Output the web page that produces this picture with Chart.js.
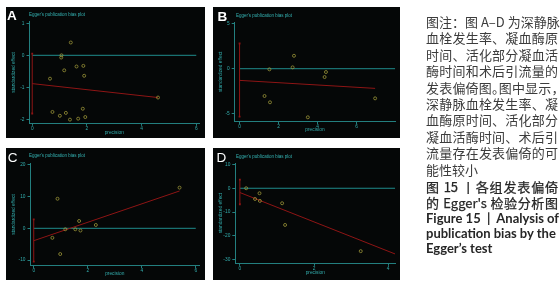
<!DOCTYPE html>
<html>
<head>
<meta charset="utf-8">
<script src="https://cdn.jsdelivr.net/npm/chart.js@4.4.0/dist/chart.umd.min.js"></script>
<style>
  body { margin: 0; width: 560px; height: 290px; background: #fff; position: relative; overflow: hidden; }
  .panel { position: absolute; background: #050707; overflow: hidden; }
  .panel canvas { position: absolute; left: 0; top: 0; }
  .tag { position: absolute; color: #fff; font: bold 13.5px "Liberation Sans", Arial, sans-serif; line-height: 1; }
  .ttl { position: absolute; color: #35b4b4; font: 9px "Liberation Sans", Arial, sans-serif; line-height: 10px;
         white-space: nowrap; transform: scale(0.5); transform-origin: 0 50%; }
  .ln { position: absolute; left: 426px; width: 132px; height: 16px; line-height: 16px; white-space: pre;
        font-family: "Noto Sans CJK SC", sans-serif; font-size: 13px; color: #3c3c3c; }
  .just { text-align: justify; text-align-last: justify; }
  .cap { color: #262626; -webkit-text-stroke: 0.25px #262626; }
  .en { font-family: Lato, "Open Sans", sans-serif; font-weight: bold; font-size: 13px; color: #262626; }
</style>
</head>
<body>

<div class="panel" id="pA" style="left:6px;top:7px;width:199px;height:131px">
  <canvas id="cA" width="199" height="131"></canvas>
  <div class="tag" style="left:1px;top:2.2px">A</div>
  <div class="ttl" style="left:23.3px;top:2.3px">Egger's publication bias plot</div>
</div>
<div class="panel" id="pB" style="left:213px;top:7px;width:187px;height:131px">
  <canvas id="cB" width="187" height="131"></canvas>
  <div class="tag" style="left:4.5px;top:3.3px">B</div>
  <div class="ttl" style="left:23px;top:3px">Egger's publication bias plot</div>
</div>
<div class="panel" id="pC" style="left:6px;top:148px;width:199px;height:132px">
  <canvas id="cC" width="199" height="132"></canvas>
  <div class="tag" style="left:1.8px;top:2.8px;font-weight:normal">C</div>
  <div class="ttl" style="left:23.3px;top:2px">Egger's publication bias plot</div>
</div>
<div class="panel" id="pD" style="left:213px;top:148px;width:187px;height:132px">
  <canvas id="cD" width="187" height="132"></canvas>
  <div class="tag" style="left:3.5px;top:2.8px;font-weight:normal">D</div>
  <div class="ttl" style="left:23px;top:3px">Egger's publication bias plot</div>
</div>

<div id="note"></div>

<script>
// === DATA ===

// A: deep vein thrombosis incidence
const precA = [1.41, 1.07, 1.06, 1.17, 0.65, 1.62, 1.87, 1.90, 0.74, 1.01, 1.23, 1.38, 1.68, 1.85, 1.94, 4.60];
const effA  = [0.40, 0.00, -0.07, -0.47, -0.73, -0.35, -0.33, -0.64, -1.77, -1.89, -1.80, -2.01, -1.98, -1.67, -1.93, -1.32];
const fitXA = [0, 4.60];
const fitYA = [-0.885, -1.32];
const ciA   = [-1.82, 0.05];
const xTicksA = [0, 2, 4, 6];
const yTicksA = [-2, -1, 0, 1];

// B: prothrombin time
const precB = [2.79, 1.53, 2.72, 4.43, 4.36, 1.28, 1.56, 3.50, 6.95];
const effB  = [1.44, -0.07, 0.15, -0.37, -0.93, -3.04, -3.74, -5.41, -3.30];
const fitXB = [0, 6.95];
const fitYB = [-1.30, -2.19];
const ciB   = [-5.33, 2.81];
const xTicksB = [0, 2, 4, 6];
const yTicksB = [-5, 0, 5];

// C: activated partial thromboplastin time
const precC = [5.40, 0.88, 1.68, 2.30, 1.17, 1.54, 1.73, 0.69, 0.98];
const effC  = [12.8, 9.3, 2.3, 1.05, -0.3, -0.3, -0.7, -3.0, -8.1];
const fitXC = [0, 5.40];
const fitYC = [-3.9, 11.75];
const ciC   = [-10.5, 2.8];
const xTicksC = [0, 2, 4, 6];
const yTicksC = [-10, 0, 10, 20];

// D: postoperative drainage
const precD = [0.17, 0.53, 0.41, 0.54, 1.14, 1.22, 3.26];
const effD  = [0.0, -2.1, -4.5, -5.3, -6.3, -15.4, -26.4];
const fitXD = [0, 4.19];
const fitYD = [-1.8, -27.6];
const ciD   = [-6.7, 3.6];
const xTicksD = [0, 2, 4];
const yTicksD = [-30, -20, -10, 0, 10];

const noteLines = [
  '图注：图 A–D 为深静脉',
  '血栓发生率、凝血酶原',
  '时间、活化部分凝血活',
  '酶时间和术后引流量的',
  '发表偏倚图。图中显示，',
  '深静脉血栓发生率、凝',
  '血酶原时间、活化部分',
  '凝血活酶时间、术后引',
  '流量存在发表偏倚的可',
  '能性较小'
];
const capZh = ['图 15 丨各组发表偏倚', '的 Egger\'s 检验分析图'];
const capEn = ['Figure 15  |  Analysis of', 'publication bias by the', 'Egger’s test'];

// === STYLE ===
const AXIS = '#237f7f';
const ZERO = '#1f8c8c';
const LBL = '#33adad';
const RED = '#8e1515';
const DOT = '#9a9438';
const FONT = 'Liberation Sans';

// === CHARTS ===
function xy(xs, ys) { return xs.map((x, i) => ({ x, y: ys[i] })); }

function renderEgger(id, d, lay) {
    const ctx = document.getElementById(id).getContext('2d');
    const small = { size: 4.8, family: FONT };
    return new Chart(ctx, {
        type: 'scatter',
        data: {
            datasets: [
                { data: xy(d.prec, d.eff), pointRadius: 1.5, pointStyle: 'circle', borderColor: DOT,
                  backgroundColor: 'rgba(0,0,0,0)', borderWidth: 0.8 },
                { data: xy(d.fitX, d.fitY), showLine: true, borderColor: RED, borderWidth: 1, pointRadius: 0 },
                { data: xy([0, 0], d.ci), showLine: true, borderColor: RED, borderWidth: 1,
                  pointRadius: 1.3, pointStyle: 'rect', pointBackgroundColor: RED, pointBorderWidth: 0 },
                { data: xy([0, lay.zeroEnd], [0, 0]), showLine: true, borderColor: ZERO, borderWidth: 1, pointRadius: 0 }
            ]
        },
        options: {
            responsive: false, animation: false, events: [],
            layout: { padding: { top: lay.top, right: lay.right, left: 0, bottom: 0 } },
            plugins: { legend: { display: false }, tooltip: { enabled: false } },
            scales: {
                x: {
                    type: 'linear', min: lay.xMin, max: lay.xMax,
                    afterFit: s => { s.height = lay.xh; },
                    afterBuildTicks: s => { s.ticks = d.xTicks.map(v => ({ value: v })); },
                    border: { color: AXIS, width: 1 },
                    grid: { drawOnChartArea: false, color: AXIS, tickLength: 2.5 },
                    ticks: { color: LBL, font: small, padding: 0, maxRotation: 0, autoSkip: false },
                    title: { display: true, text: 'precision', color: LBL, font: small, padding: { top: 0, bottom: lay.xtPad } }
                },
                y: {
                    type: 'linear', min: lay.yMin, max: lay.yMax,
                    afterFit: s => { s.width = lay.yw; },
                    afterBuildTicks: s => { s.ticks = d.yTicks.map(v => ({ value: v })); },
                    border: { color: AXIS, width: 1 },
                    grid: { drawOnChartArea: false, color: AXIS, tickLength: 3 },
                    ticks: { color: LBL, font: small, padding: 2, autoSkip: false },
                    title: { display: true, text: 'standardized effect', color: LBL, font: small, padding: { top: 5.1, bottom: 0 } }
                }
            }
        }
    });
}

renderEgger('cA', { prec: precA, eff: effA, fitX: fitXA, fitY: fitYA, ci: ciA, xTicks: xTicksA, yTicks: yTicksA },
    { xMin: -0.10, xMax: 6.1, yMin: -2.125, yMax: 1.05, yw: 23.5, xh: 14.7, top: 14.7, right: 6, zeroEnd: 6, xtPad: 2.8 });
renderEgger('cB', { prec: precB, eff: effB, fitX: fitXB, fitY: fitYB, ci: ciB, xTicks: xTicksB, yTicks: yTicksB },
    { xMin: -0.25, xMax: 7.98, yMin: -5.9, yMax: 5.2, yw: 21.7, xh: 16.3, top: 15, right: 0, zeroEnd: 7.98, xtPad: 5.1 });
renderEgger('cC', { prec: precC, eff: effC, fitX: fitXC, fitY: fitYC, ci: ciC, xTicks: xTicksC, yTicks: yTicksC },
    { xMin: -0.12, xMax: 6.12, yMin: -11.77, yMax: 20.46, yw: 24.5, xh: 14.3, top: 15.3, right: 6, zeroEnd: 6, xtPad: 3.1 });
renderEgger('cD', { prec: precD, eff: effD, fitX: fitXD, fitY: fitYD, ci: ciD, xTicks: xTicksD, yTicks: yTicksD },
    { xMin: -0.123, xMax: 4.19, yMin: -31.5, yMax: 10.6, yw: 22.3, xh: 16.7, top: 15, right: 0, zeroEnd: 4.19, xtPad: 4.1 });

// === NOTE TEXT ===
const note = document.getElementById('note');
function addLine(text, cls, cy) {
    const el = document.createElement('div');
    el.className = 'ln ' + cls;
    el.style.top = (cy - 8) + 'px';
    el.textContent = text;
    if (text.includes('。')) el.style.fontFeatureSettings = '"halt"';
    note.appendChild(el);
}
noteLines.forEach((t, i) => addLine(t, i < noteLines.length - 1 ? 'just' : '', 22 + i * 16.4));
capZh.forEach((t, i) => addLine(t, 'cap just', 187 + i * 15.5));
capEn.forEach((t, i) => addLine(t, 'en' + (i === 0 ? ' just' : ''), 218 + i * 15));
</script>
</body>
</html>
